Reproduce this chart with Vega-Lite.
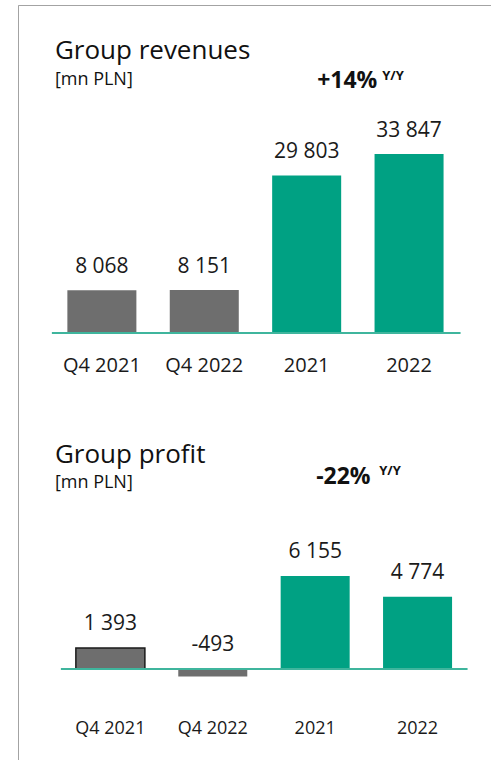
{
  "$schema": "https://vega.github.io/schema/vega-lite/v6.json",
  "width": 491,
  "height": 760,
  "autosize": {"type": "fit", "contains": "padding"},
  "padding": {"left": 18, "top": 5, "right": 0, "bottom": 0},
  "background": "white",
  "view": {"stroke": "#a3a3a3", "strokeWidth": 1, "strokeDash": [473, 1228, 755]},
  "config": {
    "font": "Open Sans",
    "locale": {"number": {"decimal": ",", "thousands": " ", "grouping": [3], "currency": ["", ""], "minus": "-"}},
    "text": {"color": "#1a1a1a", "font": "Open Sans"}
  },
  "datasets": {
    "rev": [
      {"cat": "Q4 2021", "period": "quarter", "v": 8068},
      {"cat": "Q4 2022", "period": "quarter", "v": 8151},
      {"cat": "2021", "period": "year", "v": 29803},
      {"cat": "2022", "period": "year", "v": 33847}
    ],
    "prof": [
      {"cat": "Q4 2021", "period": "quarter", "v": 1393},
      {"cat": "Q4 2022", "period": "quarter", "v": -493},
      {"cat": "2021", "period": "year", "v": 6155},
      {"cat": "2022", "period": "year", "v": 4774}
    ]
  },
  "layer": [
    {
      "data": {"name": "rev"},
      "layer": [
        {
          "mark": {"type": "bar"},
          "encoding": {
            "x": {"field": "cat", "type": "nominal", "sort": null, "axis": null,
              "scale": {"domain": ["Q4 2021", "Q4 2022", "2021", "2022"], "paddingInner": 0.326, "paddingOuter": 0.4727, "align": 0.51}},
            "y": {"field": "v", "type": "quantitative", "axis": null, "scale": {"domain": [-80741, 62022], "nice": false, "zero": false}},
            "color": {"field": "period", "type": "nominal", "legend": null, "scale": {"domain": ["quarter", "year"], "range": ["#6e6e6e", "#00a183"]}}
          }
        },
        {
          "mark": {"type": "rule", "color": "#3fb59d", "strokeWidth": 2, "xOffset": -50, "x2Offset": 51.5},
          "data": {"values": [{}]},
          "encoding": {
            "x": {"datum": "Q4 2021", "type": "nominal"},
            "x2": {"datum": "2022"},
            "y": {"datum": 0, "type": "quantitative", "scale": {"domain": [-80741, 62022], "nice": false, "zero": false}}
          }
        },
        {
          "mark": {"type": "text", "fontSize": 21, "dy": -17, "baseline": "alphabetic"},
          "encoding": {
            "x": {"field": "cat", "type": "nominal", "sort": null},
            "y": {"field": "v", "type": "quantitative", "scale": {"domain": [-80741, 62022], "nice": false, "zero": false}},
            "text": {"field": "v", "type": "quantitative", "format": ",d"}
          }
        },
        {
          "mark": {"type": "text", "fontSize": 20, "dy": 39, "baseline": "alphabetic"},
          "encoding": {
            "x": {"field": "cat", "type": "nominal", "sort": null},
            "y": {"datum": 0, "type": "quantitative", "scale": {"domain": [-80741, 62022], "nice": false, "zero": false}},
            "text": {"field": "cat"}
          }
        },
        {
          "mark": {"type": "text", "fontSize": 26, "align": "left", "baseline": "alphabetic", "xOffset": -47, "text": "Group revenues", "color": "#111111"},
          "data": {"values": [{}]},
          "encoding": {
            "x": {"datum": "Q4 2021", "type": "nominal"},
            "y": {"datum": 51810, "type": "quantitative", "scale": {"domain": [-80741, 62022], "nice": false, "zero": false}}
          }
        },
        {
          "mark": {"type": "text", "fontSize": 18, "align": "left", "baseline": "alphabetic", "xOffset": -47, "text": "[mn PLN]", "color": "#111111"},
          "data": {"values": [{}]},
          "encoding": {
            "x": {"datum": "Q4 2021", "type": "nominal"},
            "y": {"datum": 46894, "type": "quantitative", "scale": {"domain": [-80741, 62022], "nice": false, "zero": false}}
          }
        },
        {
          "mark": {"type": "text", "fontSize": 23, "fontWeight": "bold", "align": "left", "baseline": "alphabetic", "xOffset": 10.5, "text": "+14%", "color": "#111111"},
          "data": {"values": [{}]},
          "encoding": {
            "x": {"datum": "2021", "type": "nominal"},
            "y": {"datum": 46327, "type": "quantitative", "scale": {"domain": [-80741, 62022], "nice": false, "zero": false}}
          }
        },
        {
          "mark": {"type": "text", "fontSize": 13, "fontWeight": "bold", "align": "left", "baseline": "alphabetic", "xOffset": 75.5, "text": "Y/Y", "color": "#111111"},
          "data": {"values": [{}]},
          "encoding": {
            "x": {"datum": "2021", "type": "nominal"},
            "y": {"datum": 47840, "type": "quantitative", "scale": {"domain": [-80741, 62022], "nice": false, "zero": false}}
          }
        }
      ]
    },
    {
      "data": {"name": "prof"},
      "transform": [{"calculate": "max(datum.v, 0)", "as": "pos"}],
      "layer": [
        {
          "mark": {"type": "bar", "xOffset": 8.5, "strokeWidth": 1.5},
          "encoding": {
            "x": {"field": "cat", "type": "nominal", "sort": null},
            "y": {"field": "v", "type": "quantitative", "axis": null, "scale": {"domain": [-6023, 43944], "nice": false, "zero": false}},
            "color": {"field": "period", "type": "nominal", "legend": null},
            "stroke": {"condition": {"test": "datum.cat === 'Q4 2021'", "value": "#1a1a1a"}, "value": null}
          }
        },
        {
          "mark": {"type": "rule", "color": "#3fb59d", "strokeWidth": 2, "xOffset": -41, "x2Offset": 58.5},
          "data": {"values": [{}]},
          "encoding": {
            "x": {"datum": "Q4 2021", "type": "nominal"},
            "x2": {"datum": "2022"},
            "y": {"datum": 0, "type": "quantitative", "scale": {"domain": [-6023, 43944], "nice": false, "zero": false}}
          }
        },
        {
          "mark": {"type": "text", "fontSize": 21, "dy": -18, "baseline": "alphabetic", "xOffset": 8.5},
          "encoding": {
            "x": {"field": "cat", "type": "nominal", "sort": null},
            "y": {"field": "pos", "type": "quantitative", "scale": {"domain": [-6023, 43944], "nice": false, "zero": false}},
            "text": {"field": "v", "type": "quantitative", "format": ",d"}
          }
        },
        {
          "mark": {"type": "text", "fontSize": 18, "dy": 65, "baseline": "alphabetic", "xOffset": 8.5},
          "encoding": {
            "x": {"field": "cat", "type": "nominal", "sort": null},
            "y": {"datum": 0, "type": "quantitative", "scale": {"domain": [-6023, 43944], "nice": false, "zero": false}},
            "text": {"field": "cat"}
          }
        },
        {
          "mark": {"type": "text", "fontSize": 26, "align": "left", "baseline": "alphabetic", "xOffset": -47, "text": "Group profit", "color": "#111111"},
          "data": {"values": [{}]},
          "encoding": {
            "x": {"datum": "Q4 2021", "type": "nominal"},
            "y": {"datum": 13633, "type": "quantitative", "scale": {"domain": [-6023, 43944], "nice": false, "zero": false}}
          }
        },
        {
          "mark": {"type": "text", "fontSize": 18, "align": "left", "baseline": "alphabetic", "xOffset": -47, "text": "[mn PLN]", "color": "#111111"},
          "data": {"values": [{}]},
          "encoding": {
            "x": {"datum": "Q4 2021", "type": "nominal"},
            "y": {"datum": 11979, "type": "quantitative", "scale": {"domain": [-6023, 43944], "nice": false, "zero": false}}
          }
        },
        {
          "mark": {"type": "text", "fontSize": 23, "fontWeight": "bold", "align": "left", "baseline": "alphabetic", "xOffset": 9.5, "text": "-22%", "color": "#111111"},
          "data": {"values": [{}]},
          "encoding": {
            "x": {"datum": "2021", "type": "nominal"},
            "y": {"datum": 12244, "type": "quantitative", "scale": {"domain": [-6023, 43944], "nice": false, "zero": false}}
          }
        },
        {
          "mark": {"type": "text", "fontSize": 13, "fontWeight": "bold", "align": "left", "baseline": "alphabetic", "xOffset": 72.5, "text": "Y/Y", "color": "#111111"},
          "data": {"values": [{}]},
          "encoding": {
            "x": {"datum": "2021", "type": "nominal"},
            "y": {"datum": 12839, "type": "quantitative", "scale": {"domain": [-6023, 43944], "nice": false, "zero": false}}
          }
        }
      ]
    }
  ],
  "resolve": {"scale": {"y": "independent"}}
}
